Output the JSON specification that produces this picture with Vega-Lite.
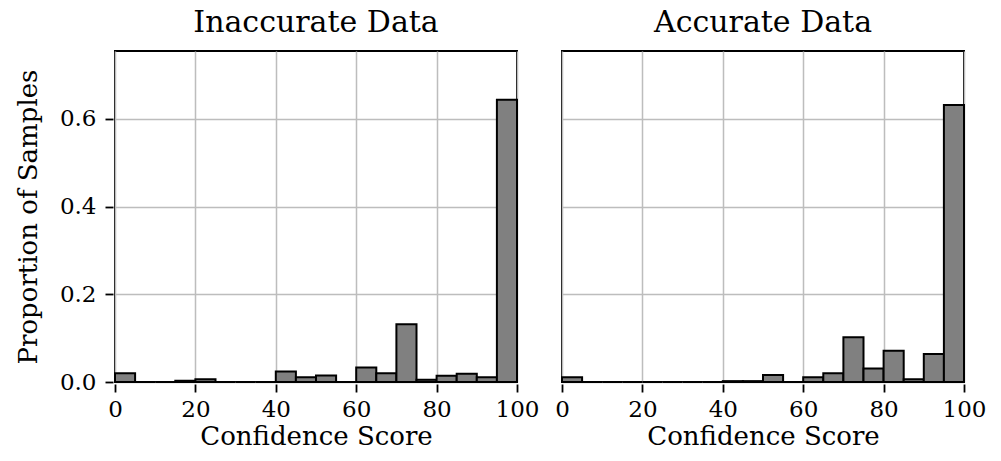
{
  "$schema": "https://vega.github.io/schema/vega-lite/v6.json",
  "padding": {"left": 15, "top": 8, "right": 5, "bottom": 5},
  "background": "white",
  "data": {"values": [
    {"panel": "Inaccurate Data", "bin_start": 0, "bin_end": 5, "proportion": 0.020},
    {"panel": "Inaccurate Data", "bin_start": 5, "bin_end": 10, "proportion": 0.0},
    {"panel": "Inaccurate Data", "bin_start": 10, "bin_end": 15, "proportion": 0.0},
    {"panel": "Inaccurate Data", "bin_start": 15, "bin_end": 20, "proportion": 0.003},
    {"panel": "Inaccurate Data", "bin_start": 20, "bin_end": 25, "proportion": 0.006},
    {"panel": "Inaccurate Data", "bin_start": 25, "bin_end": 30, "proportion": 0.0},
    {"panel": "Inaccurate Data", "bin_start": 30, "bin_end": 35, "proportion": 0.0},
    {"panel": "Inaccurate Data", "bin_start": 35, "bin_end": 40, "proportion": 0.0},
    {"panel": "Inaccurate Data", "bin_start": 40, "bin_end": 45, "proportion": 0.024},
    {"panel": "Inaccurate Data", "bin_start": 45, "bin_end": 50, "proportion": 0.011},
    {"panel": "Inaccurate Data", "bin_start": 50, "bin_end": 55, "proportion": 0.015},
    {"panel": "Inaccurate Data", "bin_start": 55, "bin_end": 60, "proportion": 0.0},
    {"panel": "Inaccurate Data", "bin_start": 60, "bin_end": 65, "proportion": 0.033},
    {"panel": "Inaccurate Data", "bin_start": 65, "bin_end": 70, "proportion": 0.020},
    {"panel": "Inaccurate Data", "bin_start": 70, "bin_end": 75, "proportion": 0.132},
    {"panel": "Inaccurate Data", "bin_start": 75, "bin_end": 80, "proportion": 0.005},
    {"panel": "Inaccurate Data", "bin_start": 80, "bin_end": 85, "proportion": 0.014},
    {"panel": "Inaccurate Data", "bin_start": 85, "bin_end": 90, "proportion": 0.019},
    {"panel": "Inaccurate Data", "bin_start": 90, "bin_end": 95, "proportion": 0.011},
    {"panel": "Inaccurate Data", "bin_start": 95, "bin_end": 100, "proportion": 0.644},
    {"panel": "Accurate Data", "bin_start": 0, "bin_end": 5, "proportion": 0.011},
    {"panel": "Accurate Data", "bin_start": 5, "bin_end": 10, "proportion": 0.0},
    {"panel": "Accurate Data", "bin_start": 10, "bin_end": 15, "proportion": 0.0},
    {"panel": "Accurate Data", "bin_start": 15, "bin_end": 20, "proportion": 0.0},
    {"panel": "Accurate Data", "bin_start": 20, "bin_end": 25, "proportion": 0.0},
    {"panel": "Accurate Data", "bin_start": 25, "bin_end": 30, "proportion": 0.0},
    {"panel": "Accurate Data", "bin_start": 30, "bin_end": 35, "proportion": 0.0},
    {"panel": "Accurate Data", "bin_start": 35, "bin_end": 40, "proportion": 0.0},
    {"panel": "Accurate Data", "bin_start": 40, "bin_end": 45, "proportion": 0.002},
    {"panel": "Accurate Data", "bin_start": 45, "bin_end": 50, "proportion": 0.002},
    {"panel": "Accurate Data", "bin_start": 50, "bin_end": 55, "proportion": 0.016},
    {"panel": "Accurate Data", "bin_start": 55, "bin_end": 60, "proportion": 0.0},
    {"panel": "Accurate Data", "bin_start": 60, "bin_end": 65, "proportion": 0.011},
    {"panel": "Accurate Data", "bin_start": 65, "bin_end": 70, "proportion": 0.020},
    {"panel": "Accurate Data", "bin_start": 70, "bin_end": 75, "proportion": 0.102},
    {"panel": "Accurate Data", "bin_start": 75, "bin_end": 80, "proportion": 0.031},
    {"panel": "Accurate Data", "bin_start": 80, "bin_end": 85, "proportion": 0.071},
    {"panel": "Accurate Data", "bin_start": 85, "bin_end": 90, "proportion": 0.006},
    {"panel": "Accurate Data", "bin_start": 90, "bin_end": 95, "proportion": 0.064},
    {"panel": "Accurate Data", "bin_start": 95, "bin_end": 100, "proportion": 0.632}
  ]},
  "facet": {
    "column": {
      "field": "panel",
      "type": "nominal",
      "sort": ["Inaccurate Data", "Accurate Data"],
      "title": null,
      "header": {"labelFont": "DejaVu Serif", "labelFontSize": 30, "labelColor": "black", "labelPadding": 12}
    }
  },
  "spacing": 41,
  "spec": {
    "width": 402,
    "height": 331,
    "mark": {"type": "rect", "fill": "#808080", "stroke": "black", "strokeWidth": 2},
    "encoding": {
      "x": {
        "field": "bin_start", "type": "quantitative",
        "scale": {"domain": [0, 100], "nice": false, "zero": false},
        "axis": {"values": [0, 20, 40, 60, 80, 100], "title": "Confidence Score", "grid": true, "labelFlush": false}
      },
      "x2": {"field": "bin_end"},
      "y": {
        "field": "proportion", "type": "quantitative",
        "scale": {"domain": [0, 0.755], "nice": false},
        "axis": {"values": [0, 0.2, 0.4, 0.6], "format": ".1f", "title": "Proportion of Samples", "grid": true, "titlePadding": 18, "labelPadding": 9}
      },
      "y2": {"datum": 0}
    }
  },
  "config": {
    "font": "DejaVu Serif",
    "view": {"stroke": "black", "strokeWidth": 2},
    "axis": {
      "labelFont": "DejaVu Serif", "labelFontSize": 23, "labelColor": "black",
      "titleFont": "DejaVu Serif", "titleFontSize": 26, "titleFontWeight": "normal", "titleColor": "black",
      "tickColor": "black", "tickSize": 8, "tickWidth": 1.8,
      "domain": false,
      "gridColor": "#bdbdbd", "gridWidth": 1.5,
      "labelPadding": 6, "titlePadding": 2
    }
  }
}
